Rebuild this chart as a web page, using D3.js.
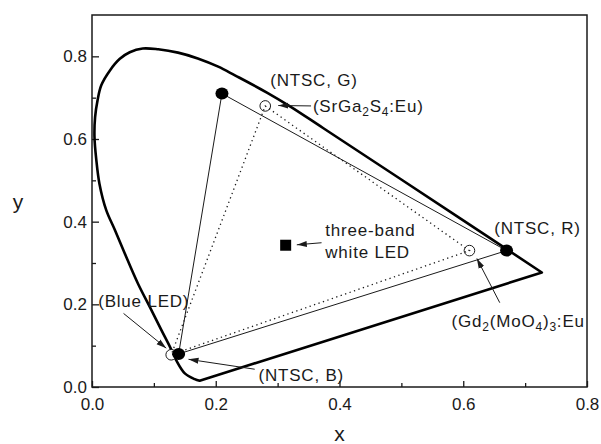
<!DOCTYPE html>
<html>
<head>
<meta charset="utf-8">
<script src="https://cdn.jsdelivr.net/npm/d3@7"></script>
<style>
  html, body { margin: 0; padding: 0; background: #fff; }
  svg { display: block; font-family: "Liberation Sans", Arial, Helvetica, sans-serif; }
</style>
</head>
<body>
<svg id="chart" width="601" height="444"></svg>
<script>
// ---- data ----
// spectral locus (bottom tip -> blue -> green -> red end)
const locusX = [0.174, 0.166, 0.150, 0.136, 0.126, 0.112, 0.096, 0.074, 0.053, 0.037, 0.023, 0.012, 0.007, 0.004, 0.005, 0.009, 0.015, 0.029, 0.045, 0.061, 0.082, 0.107, 0.139, 0.171, 0.204, 0.231, 0.282, 0.320, 0.374, 0.595, 0.727];
const locusY = [0.015, 0.019, 0.033, 0.065, 0.097, 0.138, 0.186, 0.251, 0.323, 0.380, 0.428, 0.492, 0.549, 0.605, 0.653, 0.694, 0.730, 0.766, 0.794, 0.810, 0.819, 0.817, 0.809, 0.795, 0.775, 0.754, 0.713, 0.679, 0.626, 0.408, 0.277];

// NTSC primaries (filled circles), order G, R, B
const ntscNames = ["NTSC, G", "NTSC, R", "NTSC, B"];
const ntscX = [0.21, 0.67, 0.14];
const ntscY = [0.71, 0.33, 0.08];

// three-band LED primaries (open circles), order green phosphor, red phosphor, blue LED
const ledNames = ["SrGa2S4:Eu", "Gd2(MoO4)3:Eu", "Blue LED"];
const ledX = [0.28, 0.61, 0.128];
const ledY = [0.68, 0.33, 0.078];

// white point of the three-band white LED (filled square)
const whiteX = [0.313];
const whiteY = [0.343];

// axis ticks
const xTicks = [0.0, 0.2, 0.4, 0.6, 0.8];
const xMinor = [0.1, 0.3, 0.5, 0.7];
const yTicks = [0.0, 0.2, 0.4, 0.6, 0.8];
const yMinor = [0.1, 0.3, 0.5, 0.7];

// ---- layout ----
const W = 601, H = 444;
const margin = {left: 92, top: 15, right: 14, bottom: 57};
const pw = W - margin.left - margin.right;   // 495
const ph = H - margin.top - margin.bottom;   // 372

const x = d3.scaleLinear().domain([0, 0.8]).range([margin.left, margin.left + pw]);
const y = d3.scaleLinear().domain([0, 0.9]).range([margin.top + ph, margin.top]);

const ink = "#1a1a1a";
const svg = d3.select("#chart");

const defs = svg.append("defs");
defs.append("marker")
  .attr("id", "arrow")
  .attr("markerUnits", "userSpaceOnUse")
  .attr("viewBox", "0 -4 10 8")
  .attr("refX", 10).attr("refY", 0)
  .attr("markerWidth", 10).attr("markerHeight", 8)
  .attr("orient", "auto")
  .append("path")
  .attr("d", "M0,-3 L10,0 L0,3 Z")
  .attr("fill", ink);

// ---- axes ----
const fmt = d3.format(".1f");
const gx = svg.append("g").attr("transform", `translate(0,${margin.top + ph})`)
  .call(d3.axisBottom(x).tickValues(xTicks).tickFormat(fmt).tickSizeInner(-6).tickSizeOuter(0).tickPadding(11));
const gxm = svg.append("g").attr("transform", `translate(0,${margin.top + ph})`)
  .call(d3.axisBottom(x).tickValues(xMinor).tickFormat("").tickSizeInner(-4).tickSizeOuter(0));
const gy = svg.append("g").attr("transform", `translate(${margin.left},0)`)
  .call(d3.axisLeft(y).tickValues(yTicks).tickFormat(fmt).tickSizeInner(-7).tickSizeOuter(0).tickPadding(5));
const gym = svg.append("g").attr("transform", `translate(${margin.left},0)`)
  .call(d3.axisLeft(y).tickValues(yMinor).tickFormat("").tickSizeInner(-4).tickSizeOuter(0));

[gx, gxm, gy, gym].forEach(g => {
  g.select(".domain").remove();
  g.selectAll(".tick line").attr("stroke", ink).attr("stroke-width", 1.3);
  g.selectAll(".tick text").attr("fill", ink).attr("font-size", 17)
    .attr("font-family", '"Liberation Sans", Arial, sans-serif');
});

// frame
svg.append("rect")
  .attr("x", x(0)).attr("y", y(0.9))
  .attr("width", x(0.8) - x(0)).attr("height", y(0) - y(0.9))
  .attr("fill", "none").attr("stroke", ink).attr("stroke-width", 1.5);

// axis titles
svg.append("text").attr("x", x(0.4)).attr("y", H - 3)
  .attr("text-anchor", "middle").attr("font-size", 21).attr("fill", ink).text("x");
svg.append("text").attr("x", 18).attr("y", 209)
  .attr("text-anchor", "middle").attr("font-size", 21).attr("fill", ink).text("y");

// ---- spectral locus ----
const locus = locusX.map((v, i) => [v, locusY[i]]);
const curveLine = d3.line().x(d => x(d[0])).y(d => y(d[1])).curve(d3.curveCatmullRom.alpha(0.5));
svg.append("path")
  .attr("d", curveLine(locus) + "Z")
  .attr("fill", "none").attr("stroke", "#000").attr("stroke-width", 2.6)
  .attr("stroke-linejoin", "round");

// ---- open circles (LED primaries) ----
const led = ledX.map((v, i) => ({name: ledNames[i], x: v, y: ledY[i]}));
svg.append("g").selectAll("circle").data(led).join("circle")
  .attr("cx", d => x(d.x)).attr("cy", d => y(d.y)).attr("r", 5.3)
  .attr("fill", "#fff").attr("stroke", ink).attr("stroke-width", 1);

// dotted triangle (LED gamut)
const straight = d3.line().x(d => x(d.x)).y(d => y(d.y));
svg.append("path")
  .attr("d", straight(led) + "Z")
  .attr("fill", "none").attr("stroke", ink).attr("stroke-width", 1.3)
  .attr("stroke-dasharray", "1.3,3.4");

// NTSC triangle
const ntsc = ntscX.map((v, i) => ({name: ntscNames[i], x: v, y: ntscY[i]}));
svg.append("path")
  .attr("d", straight(ntsc) + "Z")
  .attr("fill", "none").attr("stroke", ink).attr("stroke-width", 1);

// filled circles
svg.append("g").selectAll("ellipse").data(ntsc).join("ellipse")
  .attr("cx", d => x(d.x)).attr("cy", d => y(d.y)).attr("rx", 6.5).attr("ry", 6)
  .attr("fill", "#000");

// white LED square
svg.append("g").selectAll("rect").data(whiteX.map((v, i) => ({x: v, y: whiteY[i]}))).join("rect")
  .attr("x", d => x(d.x) - 5.5).attr("y", d => y(d.y) - 5.5)
  .attr("width", 11).attr("height", 11).attr("fill", "#000");

// ---- annotations ----
// arrows: [x1, y1, x2 (tip), y2 (tip)] in data units
const arrows = [
  [0.354, 0.680, 0.301, 0.681],   // SrGa2S4:Eu
  [0.263, 0.043, 0.156, 0.067],   // NTSC, B
  [0.051, 0.178, 0.120, 0.094],   // Blue LED
  [0.371, 0.349, 0.331, 0.344],   // white LED
  [0.659, 0.204, 0.622, 0.311]    // Gd2(MoO4)3:Eu
];
svg.append("g").selectAll("line").data(arrows).join("line")
  .attr("x1", d => x(d[0])).attr("y1", d => y(d[1]))
  .attr("x2", d => x(d[2])).attr("y2", d => y(d[3]))
  .attr("stroke", ink).attr("stroke-width", 1)
  .attr("marker-end", "url(#arrow)");

// labels: segments [text, isSubscript]
const labels = [
  {x: 0.288, y: 0.728, parts: [["(NTSC, G)", 0]]},
  {x: 0.357, y: 0.666, parts: [["(SrGa", 0], ["2", 1], ["S", 0], ["4", 1], [":Eu)", 0]]},
  {x: 0.377, y: 0.365, parts: [["three-band", 0]]},
  {x: 0.377, y: 0.311, parts: [["white LED", 0]]},
  {x: 0.650, y: 0.370, parts: [["(NTSC, R)", 0]]},
  {x: 0.581, y: 0.144, parts: [["(Gd", 0], ["2", 1], ["(MoO", 0], ["4", 1], [")", 0], ["3", 1], [":Eu", 0]]},
  {x: 0.269, y: 0.015, parts: [["(NTSC, B)", 0]]},
  {x: 0.010, y: 0.193, parts: [["(Blue LED)", 0]]}
];
labels.forEach(l => {
  const t = svg.append("text")
    .attr("x", x(l.x)).attr("y", y(l.y))
    .attr("font-size", 17).attr("letter-spacing", 0.8).attr("fill", ink);
  let sub = false;
  l.parts.forEach(([s, isSub]) => {
    const ts = t.append("tspan").text(s);
    if (isSub && !sub) { ts.attr("dy", 4).attr("font-size", 12); sub = true; }
    else if (isSub) { ts.attr("font-size", 12); }
    else if (!isSub && sub) { ts.attr("dy", -4); sub = false; }
  });
});
</script>
</body>
</html>
